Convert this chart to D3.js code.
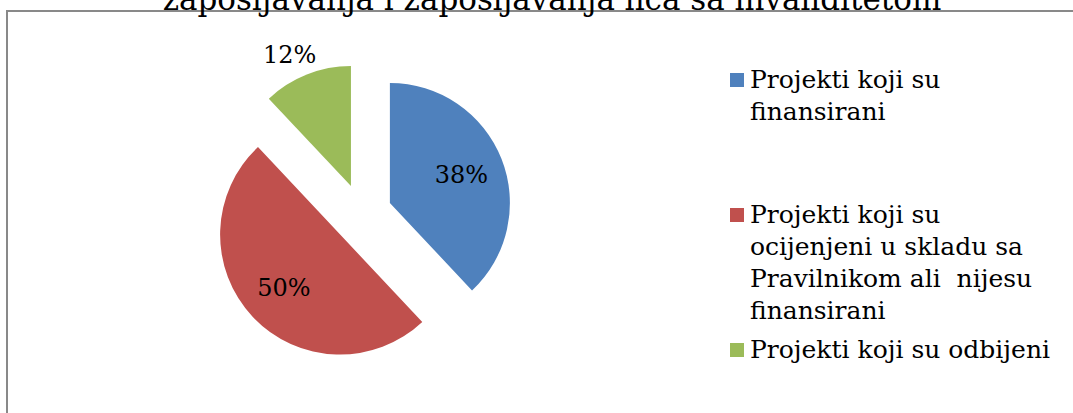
<!DOCTYPE html>
<html>
<head>
<meta charset="utf-8">
<script src="https://cdn.jsdelivr.net/npm/d3@7"></script>
<style>
  body { margin: 0; background: #fff; }
  svg text { font-family: "DejaVu Serif", serif; fill: #000; }
</style>
</head>
<body>
<div id="chart"></div>
<script>
// chart data
const categories = [
  'Projekti koji su finansirani',
  'Projekti koji su ocijenjeni u skladu sa Pravilnikom ali  nijesu finansirani',
  'Projekti koji su odbijeni'
];
const values = [38, 50, 12];
const legendLines = [
  ['Projekti koji su', 'finansirani'],
  ['Projekti koji su', 'ocijenjeni u skladu sa', 'Pravilnikom ali  nijesu', 'finansirani'],
  ['Projekti koji su odbijeni']
];
const colors = ['#4F81BD', '#C0504D', '#9BBB59'];
const titleText = 'zapošljavanja i zapošljavanja lica sa invaliditetom';

const width = 1073, height = 413;
const cx = 362, cy = 214, radius = 120, explode = 30;

const svg = d3.select('#chart')
  .append('svg')
  .attr('width', width)
  .attr('height', height);

// chart frame (runs off the right and bottom edges)
svg.append('rect')
  .attr('x', 7)
  .attr('y', 11)
  .attr('width', 1100)
  .attr('height', 440)
  .attr('fill', 'none')
  .attr('stroke', '#898989')
  .attr('stroke-width', 2);

// last line of the title, cut at the top
svg.append('text')
  .attr('x', 552)
  .attr('y', 10)
  .attr('text-anchor', 'middle')
  .style('font-size', '31px')
  .text(titleText);

const pie = d3.pie().sort(null).value(d => d);
const arcs = pie(values);
const arc = d3.arc().innerRadius(0).outerRadius(radius);

const g = svg.append('g')
  .attr('transform', `translate(${cx},${cy})`);

// offset each slice along its middle angle
const shift = d => {
  const a = (d.startAngle + d.endAngle) / 2;
  return [Math.sin(a) * explode, -Math.cos(a) * explode];
};

const slices = g.selectAll('g.slice')
  .data(arcs)
  .enter()
  .append('g')
  .attr('class', 'slice')
  .attr('transform', d => `translate(${shift(d)})`);

slices.append('path')
  .attr('d', arc)
  .attr('fill', (d, i) => colors[i]);

// small slices get their label outside the pie
slices.append('text')
  .attr('transform', d => {
    const a = (d.startAngle + d.endAngle) / 2;
    const outside = d.data < 20;
    const r = outside ? 142 : 77;
    const dx = outside ? -9 : 0;
    return `translate(${Math.sin(a) * r + dx},${-Math.cos(a) * r})`;
  })
  .attr('dy', '0.36em')
  .attr('text-anchor', 'middle')
  .style('font-size', '24px')
  .text(d => d3.format('.0%')(d.data / d3.sum(values)));

// legend
const legendY = [88, 223, 358];
const lineH = 32;
const legend = svg.append('g');
const items = legend.selectAll('g.item')
  .data(legendLines)
  .enter()
  .append('g')
  .attr('class', 'item')
  .attr('transform', (d, i) => `translate(730,${legendY[i]})`);

items.append('rect')
  .attr('x', 0)
  .attr('y', -15)
  .attr('width', 14)
  .attr('height', 14)
  .attr('fill', (d, i) => colors[i]);

items.append('text')
  .style('font-size', '25px')
  .selectAll('tspan')
  .data(d => d)
  .enter()
  .append('tspan')
  .attr('x', 20)
  .attr('y', (d, i) => i * lineH)
  .style('white-space', 'pre')
  .text(d => d);
</script>
</body>
</html>
